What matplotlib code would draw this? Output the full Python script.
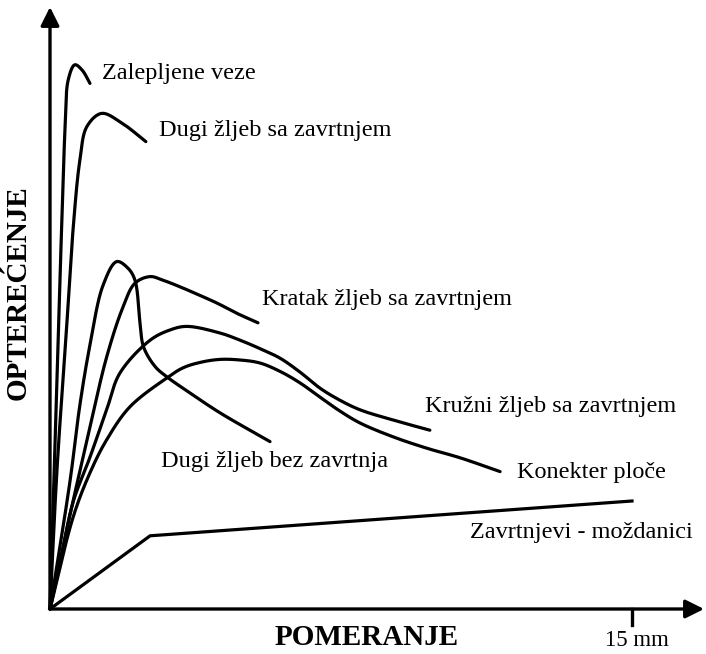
import numpy as np
import matplotlib
matplotlib.use("Agg")
from matplotlib import pyplot as plt

# displacement (mm) / load (relative units)
zal_x = [0, 0.10, 0.21, 0.30, 0.39, 0.47, 0.64, 0.83, 1.03]
zal_y = [0, 21.5, 44.8, 63.7, 80.4, 88.2, 90.7, 89.8, 87.6]

dsa_x = [0, 0.18, 0.43, 0.60, 0.77, 0.95, 1.33, 1.85, 2.47]
dsa_y = [0, 23.2, 47.1, 63.7, 74.8, 80.4, 82.6, 81.0, 77.9]

dbez_x = [0, 0.52, 0.77, 1.03, 1.37, 1.72, 2.01, 2.19, 2.32, 2.41, 2.71, 3.01, 3.61, 4.38, 5.67]
dbez_y = [0, 21.5, 34.0, 44.0, 54.0, 57.9, 56.8, 54.8, 47.7, 43.7, 40.4, 38.7, 36.0, 32.7, 27.9]

krat_x = [0, 0.43, 1.03, 1.46, 1.88, 2.19, 2.58, 2.91, 3.35, 3.78, 4.30, 4.81, 5.36]
krat_y = [0, 13.2, 30.3, 42.0, 50.3, 54.3, 55.4, 54.8, 53.7, 52.5, 51.0, 49.3, 47.7]

kruz_x = [0, 0.26, 0.59, 1.03, 1.46, 1.80, 2.58, 3.09, 3.52, 4.38, 4.90, 5.41, 5.93, 6.44, 6.96, 7.47, 7.99, 8.84, 9.79]
kruz_y = [0, 7.7, 17.7, 25.3, 33.2, 39.3, 44.8, 46.5, 47.1, 46.0, 44.8, 43.4, 41.8, 39.5, 36.8, 34.8, 33.2, 31.5, 29.8]

kon_x = [0, 0.60, 1.03, 1.46, 2.06, 3.01, 3.43, 3.87, 4.38, 4.90, 5.41, 5.93, 6.44, 6.96, 7.47, 7.99, 8.84, 9.71, 10.57, 11.60]
kon_y = [0, 15.4, 22.7, 28.2, 33.7, 38.5, 40.2, 41.1, 41.6, 41.5, 41.0, 39.6, 37.7, 35.3, 33.0, 31.0, 28.7, 26.8, 25.2, 22.9]

zav_x = [0, 2.58, 15.0]
zav_y = [0, 12.2, 18.0]

labels = ["Zalepljene veze", "Dugi žljeb sa zavrtnjem", "Kratak žljeb sa zavrtnjem",
          "Kružni žljeb sa zavrtnjem", "Dugi žljeb bez zavrtnja", "Konekter ploče",
          "Zavrtnjevi - moždanici"]
label_pos = [(1.34, 89.3), (2.81, 79.7), (5.46, 51.5), (9.66, 33.7),
             (2.86, 24.5), (12.04, 22.7), (10.82, 12.8)]

SX, SY = 38.8, 6.0  # pixels per mm / per load unit


def smooth(xs, ys, n=24):
    # centripetal catmull-rom through the read points, in pixel space
    p = np.column_stack([np.asarray(xs) * SX, np.asarray(ys) * SY])
    p = np.vstack([2 * p[0] - p[1], p, 2 * p[-1] - p[-2]])
    out = []
    for i in range(1, len(p) - 2):
        p0, p1, p2, p3 = p[i - 1], p[i], p[i + 1], p[i + 2]
        t0 = 0.0
        t1 = t0 + np.linalg.norm(p1 - p0) ** 0.5
        t2 = t1 + np.linalg.norm(p2 - p1) ** 0.5
        t3 = t2 + np.linalg.norm(p3 - p2) ** 0.5
        t = np.linspace(t1, t2, n, endpoint=False)[:, None]
        a1 = (t1 - t) / (t1 - t0) * p0 + (t - t0) / (t1 - t0) * p1
        a2 = (t2 - t) / (t2 - t1) * p1 + (t - t1) / (t2 - t1) * p2
        a3 = (t3 - t) / (t3 - t2) * p2 + (t - t2) / (t3 - t2) * p3
        b1 = (t2 - t) / (t2 - t0) * a1 + (t - t0) / (t2 - t0) * a2
        b2 = (t3 - t) / (t3 - t1) * a2 + (t - t1) / (t3 - t1) * a3
        out.append((t2 - t) / (t2 - t1) * b1 + (t - t1) / (t2 - t1) * b2)
    out.append(p[-2][None])
    out = np.vstack(out)
    return out[:, 0] / SX, out[:, 1] / SY


fig = plt.figure(figsize=(7.06, 6.54), dpi=100)
ax = fig.add_axes([0, 0, 1, 1])
ax.set_xlim(-50 / SX, 656 / SX)
ax.set_ylim(-45 / SY, 609 / SY)
ax.axis("off")

for xs, ys in [(zal_x, zal_y), (dsa_x, dsa_y), (dbez_x, dbez_y), (krat_x, krat_y),
               (kruz_x, kruz_y), (kon_x, kon_y)]:
    sx, sy = smooth(xs, ys)
    ax.plot(sx, sy, color="black", lw=2.3, solid_capstyle="round", solid_joinstyle="round")
ax.plot(zav_x, zav_y, color="black", lw=2.3, solid_joinstyle="round")

# axes with arrows
arrow = dict(arrowstyle="-|>", lw=2.4, color="black", mutation_scale=28, shrinkA=0, shrinkB=0)
ax.annotate("", xy=(654 / SX, 0), xytext=(0, 0), arrowprops=arrow)
ax.annotate("", xy=(0, 602 / SY), xytext=(0, 0), arrowprops=arrow)
ax.plot([15, 15], [0, -2.6], color="black", lw=2.4)

serif = ["Liberation Serif", "DejaVu Serif"]
for txt, (x, y) in zip(labels, label_pos):
    ax.text(x, y, txt, fontsize=17.5, family=serif, ha="left", va="center")

ax.text(15.13, -5.2, "15 mm", fontsize=16.5, family=serif, ha="center", va="center")
ax.text(8.17, -4.8, "POMERANJE", fontsize=21, family=serif, weight="bold", ha="center", va="center")
ax.text(-0.82, 52.8, "OPTEREĆENJE", fontsize=21, family=serif, weight="bold",
        ha="center", va="center", rotation=90)

fig.savefig("out.png", dpi=100)
